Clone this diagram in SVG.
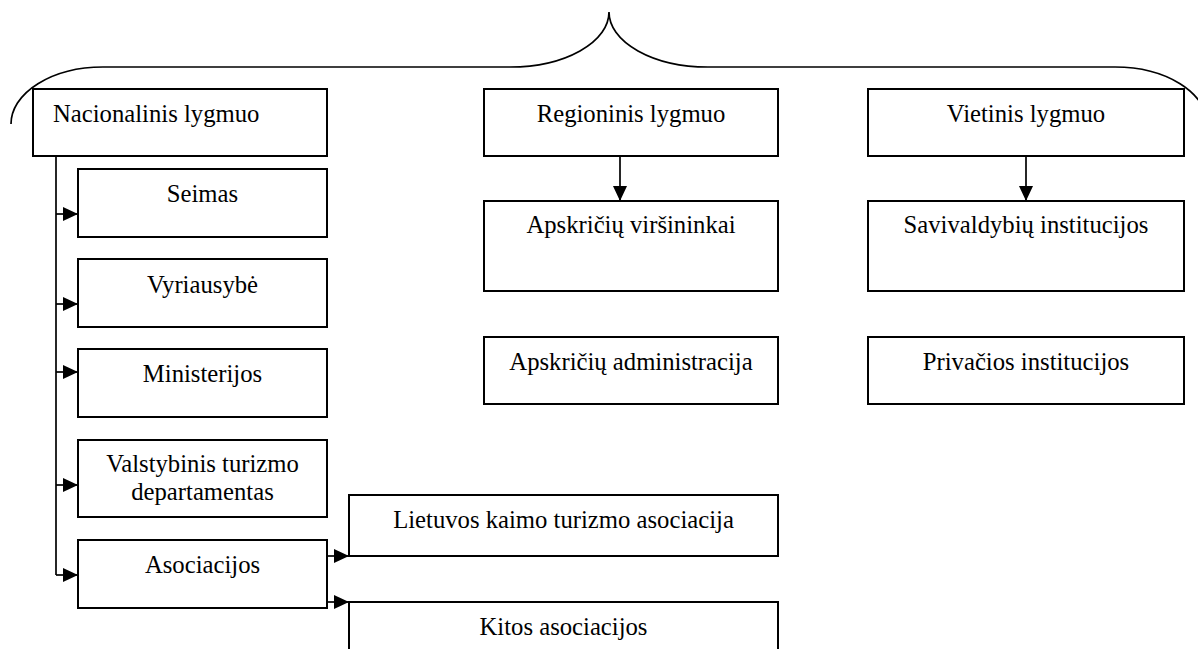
<svg xmlns="http://www.w3.org/2000/svg" width="1198" height="649" viewBox="0 0 1198 649">
<defs>
<marker id="ah" markerUnits="userSpaceOnUse" markerWidth="15" markerHeight="14" refX="15" refY="7" orient="auto">
<path d="M0,0 L15,7 L0,14 z" fill="#000"/>
</marker>
<style>
.box{fill:#fff;stroke:#000;stroke-width:2}
.t{font-family:"Liberation Serif","Times New Roman",serif;font-size:24.7px;fill:#000;text-anchor:middle}
.c{fill:none;stroke:#000;stroke-width:1.7}
.ca{fill:none;stroke:#000;stroke-width:1.7;marker-end:url(#ah)}
</style>
</defs>
<rect width="1198" height="649" fill="#fff"/>
<path id="brace" class="c" d="M11,124 A92,57 0 0 1 103,67 L510,67 A99,55 0 0 0 609,12 A99,55 0 0 0 708,67 L1115,67 A92,57 0 0 1 1207,124"/>
<g id="connectors">
<path class="c" d="M56,156 V575"/>
<path class="ca" d="M56,214 H78"/>
<path class="ca" d="M56,304 H78"/>
<path class="ca" d="M56,372 H78"/>
<path class="ca" d="M56,485 H78"/>
<path class="ca" d="M56,575 H78"/>
<path class="ca" d="M327,556 H349"/>
<path class="ca" d="M327,602 H349"/>
<path class="ca" d="M620,156 V201"/>
<path class="ca" d="M1026,156 V201"/>
</g>
<g id="nacionalinis"><rect class="box" x="33" y="89" width="294" height="67"/><text class="t" x="53" y="122" style="text-anchor:start">Nacionalinis lygmuo</text></g>
<g id="regioninis"><rect class="box" x="484" y="89" width="294" height="67"/><text class="t" x="631" y="122">Regioninis lygmuo</text></g>
<g id="vietinis"><rect class="box" x="868" y="89" width="316" height="67"/><text class="t" x="1026" y="122">Vietinis lygmuo</text></g>
<g id="seimas"><rect class="box" x="78" y="169" width="249" height="68"/><text class="t" x="202.5" y="202">Seimas</text></g>
<g id="vyriausybe"><rect class="box" x="78" y="259" width="249" height="68"/><text class="t" x="202.5" y="293">Vyriausybė</text></g>
<g id="ministerijos"><rect class="box" x="78" y="349" width="249" height="68"/><text class="t" x="202.5" y="382">Ministerijos</text></g>
<g id="vtd"><rect class="box" x="78" y="440" width="249" height="77"/><text class="t" x="202.5" y="472">Valstybinis turizmo</text><text class="t" x="202.5" y="500">departamentas</text></g>
<g id="asociacijos"><rect class="box" x="78" y="540" width="249" height="68"/><text class="t" x="202.5" y="573">Asociacijos</text></g>
<g id="apskr-virs"><rect class="box" x="484" y="201" width="294" height="90"/><text class="t" x="631" y="233">Apskričių viršininkai</text></g>
<g id="apskr-adm"><rect class="box" x="484" y="337" width="294" height="67"/><text class="t" x="631" y="370">Apskričių administracija</text></g>
<g id="savivaldybiu"><rect class="box" x="868" y="201" width="316" height="90"/><text class="t" x="1026" y="233">Savivaldybių institucijos</text></g>
<g id="privacios"><rect class="box" x="868" y="337" width="316" height="67"/><text class="t" x="1026" y="370">Privačios institucijos</text></g>
<g id="lkta"><rect class="box" x="349" y="495" width="429" height="61"/><text class="t" x="563.5" y="528">Lietuvos kaimo turizmo asociacija</text></g>
<g id="kitos"><rect class="box" x="349" y="602" width="429" height="70"/><text class="t" x="563.5" y="635">Kitos asociacijos</text></g>
</svg>
